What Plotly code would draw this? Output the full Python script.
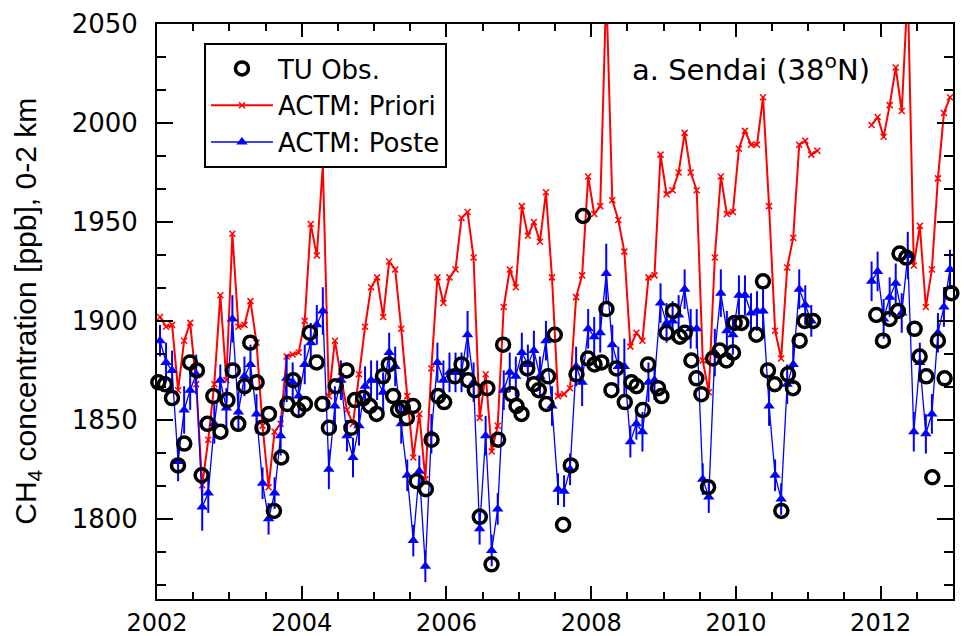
import plotly.graph_objects as go

# ---------------- data ----------------
years = list(range(2002, 2013))
month_time = [y + (m - 0.5) / 12 for y in years for m in range(1, 13)]

N = None
priori = [
    1902, 1897, 1898, 1865, 1890, 1899, 1868, 1817, 1840, 1868, 1913, 1870,  # 2002
    1944, 1897, 1898, 1910, 1889, 1847, 1816, 1844, 1848, 1882, 1883, 1884,  # 2003
    1900, 1949, 1933, 1979, 1862, 1890, 1872, 1855, 1848, 1873, 1897, 1917,  # 2004
    1922, 1902, 1930, 1926, 1896, 1862, 1831, 1853, 1820, 1876, 1922, 1909,  # 2005
    1922, 1926, 1952, 1955, 1932, 1851, 1873, 1834, 1847, 1907, 1926, 1917,  # 2006
    1958, 1943, 1950, 1940, 1965, 1922, 1862, 1863, 1866, 1912, 1923, 1973,  # 2007
    1954, 1958, 2068, 1961, 1951, 1935, 1887, 1894, 1890, 1922, 1923, 1984,  # 2008
    1964, 1966, 1975, 1995, 1975, 1966, 1880, 1864, 1932, 1973, 1954, 1955,  # 2009
    1987, 1996, 1989, 1989, 2013, 1958, 1895, 1881, 1927, 1942, 1989, 1991,  # 2010
    1984, 1986, N, N, N, N, N, N, N, N, 1999, 2003,                          # 2011
    1993, 2009, 2028, 2006, 2068, 1928, 1948, 1907, 1926, 1972, 2005, 2013,  # 2012
]

poste = [
    1890, 1879, 1875, 1829, 1855, 1865, 1873, 1806, 1813, 1848, 1870, 1856,  # 2002
    1901, 1854, 1872, 1878, 1853, 1818, 1800, 1813, 1842, 1871, 1869, 1862,  # 2003
    1878, 1889, 1898, 1905, 1825, 1857, 1870, 1842, 1831, 1847, 1867, 1870,  # 2004
    1870, 1864, 1884, 1877, 1848, 1822, 1789, 1824, 1776, 1843, 1879, 1870,  # 2005
    1874, 1874, 1874, 1893, 1869, 1795, 1842, 1784, 1805, 1865, 1874, 1872,  # 2006
    1884, 1878, 1885, 1872, 1890, 1857, 1815, 1814, 1825, 1877, 1869, 1896,  # 2007
    1892, 1894, 1924, 1888, 1877, 1877, 1839, 1848, 1844, 1869, 1870, 1909,  # 2008
    1899, 1900, 1903, 1916, 1896, 1896, 1820, 1811, 1884, 1914, 1895, 1893,  # 2009
    1913, 1913, 1904, 1905, 1905, 1857, 1822, 1810, 1868, 1878, 1916, 1908,  # 2010
    1900, N, N, N, N, N, N, N, N, N, 1920, 1925,                             # 2011
    1901, 1912, 1919, 1904, 1933, 1844, 1879, 1843, 1853, 1894, 1907, 1926,  # 2012
]

poste_err = [
    8, 10, 10, 10, 12, 10, 10, 12, 10, 10, 8, 10,
    12, 10, 10, 10, 10, 8, 8, 8, 10, 12, 10, 10,
    10, 10, 10, 12, 10, 10, 10, 8, 10, 10, 10, 10,
    10, 10, 10, 10, 10, 8, 8, 8, 8, 10, 10, 10,
    10, 10, 10, 12, 10, 8, 10, 8, 8, 10, 10, 10,
    10, 10, 10, 10, 10, 10, 8, 8, 8, 10, 12, 10,
    10, 10, 15, 10, 10, 14, 8, 8, 10, 10, 10, 10,
    10, 10, 10, 10, 10, 10, 8, 8, 12, 12, 10, 10,
    10, 10, 10, 10, 12, 10, 8, 8, 10, 10, 10, 10,
    8, 0, 0, 0, 0, 0, 0, 0, 0, 0, 10, 10,
    10, 10, 10, 10, 12, 10, 10, 10, 10, 10, 10, 10,
]

obs_time = [
    2002.018, 2002.110, 2002.207, 2002.290, 2002.377, 2002.456, 2002.552, 2002.617,
    2002.698, 2002.778, 2002.877, 2002.974, 2003.047, 2003.123, 2003.209, 2003.289,
    2003.377, 2003.457, 2003.547, 2003.616, 2003.717, 2003.802, 2003.883, 2003.952,
    2004.044, 2004.113, 2004.206, 2004.286, 2004.376, 2004.470, 2004.620, 2004.686,
    2004.735, 2004.849, 2004.942, 2005.035, 2005.122, 2005.204, 2005.264, 2005.333,
    2005.398, 2005.453, 2005.540, 2005.587, 2005.715, 2005.794, 2005.885, 2005.968,
    2006.116, 2006.209, 2006.300, 2006.392, 2006.461, 2006.565, 2006.623, 2006.714,
    2006.783, 2006.899, 2006.968, 2007.037, 2007.117, 2007.207, 2007.276, 2007.382,
    2007.405, 2007.497, 2007.612, 2007.718, 2007.797, 2007.888, 2007.957, 2008.046,
    2008.142, 2008.211, 2008.280, 2008.349, 2008.464, 2008.556, 2008.626, 2008.713,
    2008.786, 2008.924, 2008.971, 2009.040, 2009.131, 2009.224, 2009.293, 2009.385,
    2009.454, 2009.523, 2009.615, 2009.684, 2009.776, 2009.869, 2009.960, 2009.983,
    2010.076, 2010.283, 2010.374, 2010.443, 2010.536, 2010.628, 2010.720, 2010.789,
    2010.881, 2010.950, 2011.065, 2011.940, 2012.032, 2012.124, 2012.239, 2012.262,
    2012.355, 2012.470, 2012.539, 2012.631, 2012.714, 2012.791, 2012.884, 2012.977,
]
obs_value = [
    1869, 1868, 1861, 1827, 1838, 1879, 1875, 1822,
    1848, 1862, 1844, 1860, 1875, 1848, 1867, 1889,
    1869, 1846, 1853, 1804, 1831, 1858, 1870, 1855,
    1858, 1894, 1879, 1858, 1846, 1867, 1875, 1846,
    1860, 1861, 1857, 1853, 1872, 1878, 1862, 1855,
    1856, 1851, 1857, 1819, 1815, 1840, 1862, 1859,
    1872, 1878, 1870, 1865, 1801, 1866, 1777, 1840,
    1888, 1863, 1857, 1853, 1876, 1868, 1865, 1858,
    1872, 1893, 1797, 1827, 1873, 1953, 1881, 1878,
    1879, 1906, 1865, 1876, 1859, 1869, 1867, 1855,
    1878, 1866, 1862, 1894, 1905, 1892, 1894, 1880,
    1871, 1863, 1816, 1881, 1885, 1880, 1884, 1899,
    1899, 1893, 1920, 1875, 1868, 1804, 1873, 1866,
    1890, 1900, 1900, 1903, 1890, 1901, 1905, 1934,
    1932, 1896, 1882, 1872, 1821, 1890, 1871, 1914,
]

x_ticks = [2002, 2004, 2006, 2008, 2010, 2012]
y_ticks = [1800, 1850, 1900, 1950, 2000, 2050]

RED = "rgb(255,0,0)"
BLUE = "rgb(0,0,255)"
FONT = "DejaVu Sans"

fig = go.Figure()

fig.add_trace(go.Scatter(
    x=month_time, y=priori, name="ACTM: Priori", mode="lines+markers",
    line=dict(color=RED, width=2),
    marker=dict(symbol="x-thin-open", size=6, color=RED, line=dict(color=RED, width=1.5)),
    legendrank=2,
))

fig.add_trace(go.Scatter(
    x=month_time, y=poste, name="ACTM: Poste", mode="lines+markers",
    line=dict(color=BLUE, width=1.3),
    marker=dict(symbol="triangle-up", size=10, color=BLUE),
    error_y=dict(type="data", array=poste_err, color=BLUE, thickness=2, width=0),
    legendrank=3,
))

fig.add_trace(go.Scatter(
    x=obs_time, y=obs_value, name="TU Obs.", mode="markers",
    marker=dict(symbol="circle-open", size=13, color="black", line=dict(color="black", width=3.5)),
    cliponaxis=False,
    legendrank=1,
))

axis_common = dict(
    showline=True, linecolor="black", linewidth=2, mirror="allticks",
    ticks="inside", tickcolor="black", tickwidth=2,
    showgrid=False, zeroline=False, automargin=False,
)

fig.update_xaxes(
    range=[2002, 2013], tickvals=x_ticks, ticktext=[str(v) for v in x_ticks],
    ticklen=13, ticklabelstandoff=1,
    tickfont=dict(family=FONT, size=24, color="black"),
    minor=dict(dtick=0.5, tick0=2002, ticks="inside", ticklen=7, tickcolor="black", tickwidth=2, showgrid=False),
    **axis_common,
)
fig.update_yaxes(
    range=[1759.5, 2050], tickvals=y_ticks, ticktext=[str(v) for v in y_ticks],
    ticklen=16, ticklabelstandoff=12,
    tickfont=dict(family=FONT, size=26, color="black"),
    minor=dict(dtick=50 / 3, tick0=1750, ticks="inside", ticklen=9, tickcolor="black", tickwidth=2, showgrid=False),
    **axis_common,
)

fig.add_annotation(
    text="CH<sub>4</sub> concentration [ppb], 0-2 km",
    xref="paper", yref="paper", x=-0.163, y=0.5,
    xanchor="center", yanchor="middle", textangle=-90, showarrow=False,
    font=dict(family="Liberation Sans", size=30, color="black"),
)
fig.add_annotation(
    text="a. Sendai (38<sup>o</sup>N)",
    xref="paper", yref="paper", x=0.746, y=0.923,
    xanchor="center", yanchor="middle", showarrow=False,
    font=dict(family=FONT, size=29, color="black"),
)

fig.update_layout(
    width=964, height=636,
    margin=dict(l=157, r=11, t=24, b=37),
    paper_bgcolor="white", plot_bgcolor="white",
    showlegend=True,
    legend=dict(
        x=0.059, y=0.967, xanchor="left", yanchor="top",
        bgcolor="white", bordercolor="black", borderwidth=2,
        font=dict(family=FONT, size=26, color="black"),
        itemwidth=62, traceorder="normal",
    ),
)

fig.write_html("out.html")
